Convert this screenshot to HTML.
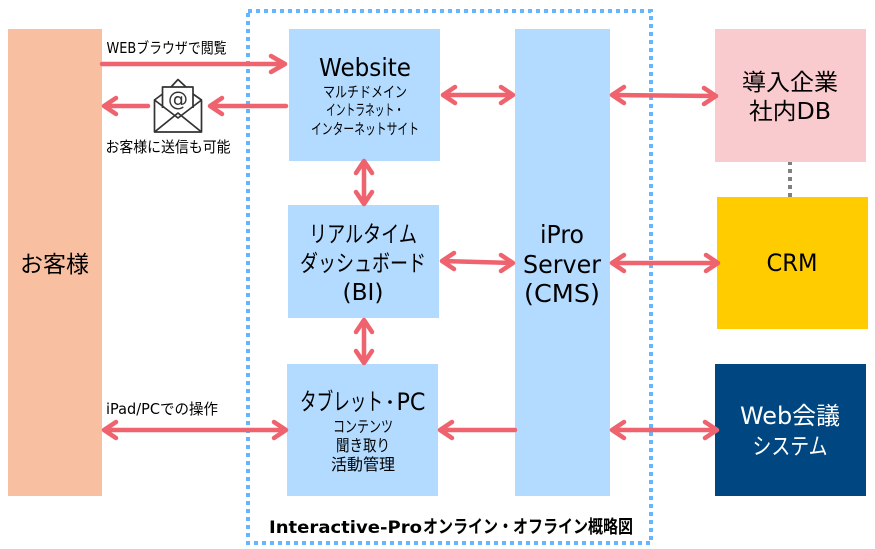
<!DOCTYPE html>
<html><head><meta charset="utf-8"><style>
html,body{margin:0;padding:0;background:#fff;width:875px;height:549px;overflow:hidden}
svg{display:block}
text{font-family:"DejaVu Sans","Noto Sans CJK JP",sans-serif;fill:#000;text-anchor:middle}
.a{stroke:#EE636D;stroke-width:4.500;fill:none;stroke-linecap:round;stroke-linejoin:round}
</style></head><body>
<svg width="875" height="549" viewBox="0 0 875 549" xmlns="http://www.w3.org/2000/svg">
<line x1="790" y1="161" x2="790" y2="197" stroke="#808080" stroke-width="4" stroke-dasharray="4 4"/>
<rect x="8" y="29" width="94" height="467" fill="#F8BFA0"/>
<rect x="289" y="29" width="151" height="132" fill="#B3DBFF"/>
<rect x="288" y="205" width="151" height="113" fill="#B3DBFF"/>
<rect x="287" y="364" width="151" height="132" fill="#B3DBFF"/>
<rect x="515" y="29" width="95" height="467" fill="#B3DBFF"/>
<rect x="715" y="29" width="151" height="133" fill="#F9CBCE"/>
<rect x="717" y="197" width="151" height="132" fill="#FFCC00"/>
<rect x="715" y="364" width="151" height="132" fill="#004680"/>
<rect x="248" y="11" width="403" height="532" fill="none" stroke="#66B5FF" stroke-width="4" stroke-dasharray="4 4"/>

<g class="a">
<path d="M102 64H285M271 56L285 64L271 72"/>
<path d="M286 106H210M222 98L210 106L222 114"/>
<path d="M148 106H105M116 98L104 106L116 114"/>
<path d="M443 95H513M455 87L443 95L455 103M501 87L513 95L501 103"/>
<path d="M612 95L716 96M624 87L612 95L624 103M704 88L716 96L704 104"/>
<path d="M364 161V204M356 173L364 161L372 173M356 192L364 204L372 192"/>
<path d="M442 261L513 263M454 253L442 261L454 269M501 255L513 263L501 271"/>
<path d="M612 263H718M624 255L612 263L624 271M706 255L718 263L706 271"/>
<path d="M364 320V363M356 332L364 320L372 332M356 351L364 363L372 351"/>
<path d="M104 430H286M116 422L104 430L116 438M274 422L286 430L274 438"/>
<path d="M515 430H440M452 422L440 430L452 438"/>
<path d="M612 430H717M624 422L612 430L624 438M705 422L717 430L705 438"/>
</g>

<!-- mail icon -->
<g fill="none" stroke="#333" stroke-width="1.700" stroke-linejoin="round">
<path d="M154.500 100V132H201.500V100L178 118Z"/>
<path d="M154.500 132L178 113L201.500 132"/>
<path d="M154.500 100L162.500 94M201.500 100L193 94"/>
<path d="M162.500 108V87H193V108"/>
<path d="M171 87L178 79.500L186 87"/>
</g>
<text x="178" y="106" font-size="20" style="fill:#333">@</text>

<text x="54.500" y="272" font-size="23" textLength="69" lengthAdjust="spacingAndGlyphs">お客様</text>
<text x="166.500" y="53" font-size="15" textLength="120" lengthAdjust="spacingAndGlyphs">WEBブラウザで閲覧</text>
<text x="168" y="152" font-size="15" textLength="125" lengthAdjust="spacingAndGlyphs">お客様に送信も可能</text>
<text x="162" y="414" font-size="15" textLength="112" lengthAdjust="spacingAndGlyphs">iPad/PCでの操作</text>

<text x="365" y="76" font-size="25" textLength="92" lengthAdjust="spacingAndGlyphs">Website</text>
<text x="365" y="97" font-size="15" textLength="84" lengthAdjust="spacingAndGlyphs">マルチドメイン</text>
<text x="365" y="115" font-size="15" textLength="78" lengthAdjust="spacingAndGlyphs">イントラネット・</text>
<text x="365" y="134" font-size="15" textLength="108" lengthAdjust="spacingAndGlyphs">インターネットサイト</text>

<text x="363" y="242" font-size="23" textLength="108" lengthAdjust="spacingAndGlyphs">リアルタイム</text>
<text x="363" y="271" font-size="23" textLength="126" lengthAdjust="spacingAndGlyphs">ダッシュボード</text>
<text x="363" y="300" font-size="23" textLength="41" lengthAdjust="spacingAndGlyphs">(BI)</text>

<text x="341.500" y="410" font-size="24" textLength="83" lengthAdjust="spacingAndGlyphs">タブレット</text>
<circle cx="390" cy="402" r="1.800" fill="#000"/>
<text x="411" y="410" font-size="24" textLength="29" lengthAdjust="spacingAndGlyphs">PC</text>
<text x="363" y="432" font-size="16" textLength="60" lengthAdjust="spacingAndGlyphs">コンテンツ</text>
<text x="363" y="451" font-size="16" textLength="54" lengthAdjust="spacingAndGlyphs">聞き取り</text>
<text x="363" y="470" font-size="16" textLength="64" lengthAdjust="spacingAndGlyphs">活動管理</text>

<text x="562" y="243" font-size="25" textLength="44" lengthAdjust="spacingAndGlyphs">iPro</text>
<text x="562" y="273" font-size="25" textLength="78" lengthAdjust="spacingAndGlyphs">Server</text>
<text x="562" y="302" font-size="25" textLength="76" lengthAdjust="spacingAndGlyphs">(CMS)</text>

<text x="790" y="90" font-size="23" textLength="96" lengthAdjust="spacingAndGlyphs">導入企業</text>
<text x="790" y="119" font-size="23" textLength="82" lengthAdjust="spacingAndGlyphs">社内DB</text>
<text x="792" y="271" font-size="24" textLength="51" lengthAdjust="spacingAndGlyphs">CRM</text>
<text x="790" y="424" font-size="24" textLength="100" lengthAdjust="spacingAndGlyphs" style="fill:#fff">Web会議</text>
<text x="790" y="454" font-size="23" textLength="75" lengthAdjust="spacingAndGlyphs" style="fill:#fff">システム</text>

<text x="345.500" y="533" font-size="17" font-weight="700" textLength="153" lengthAdjust="spacingAndGlyphs">Interactive-Pro</text>
<text x="528" y="533" font-size="18" font-weight="700" textLength="210" lengthAdjust="spacingAndGlyphs">オンライン・オフライン概略図</text>
</svg>
</body></html>
